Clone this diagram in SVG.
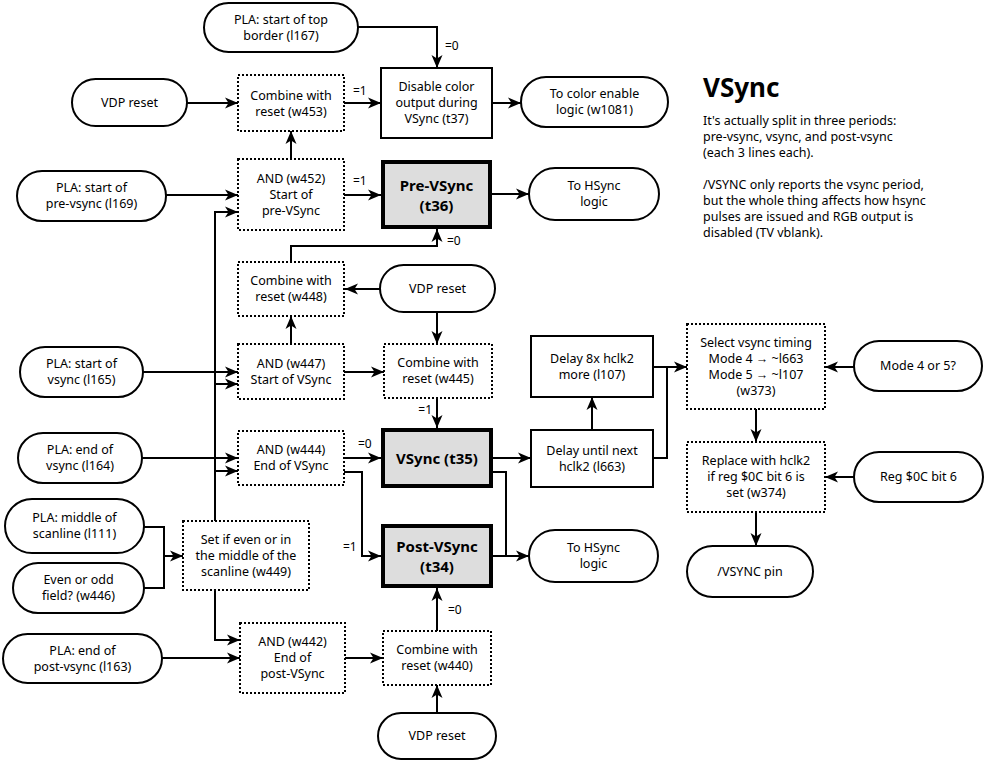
<svg xmlns="http://www.w3.org/2000/svg" width="986" height="763" viewBox="0 0 986 763">
<style>
.pill{fill:#fff;stroke:#000;stroke-width:2}
.box{fill:#fff;stroke:#000;stroke-width:2}
.dot{fill:#fff;stroke:#000;stroke-width:2;stroke-dasharray:2 2}
.thick{fill:#ddd;stroke:#000;stroke-width:4}
text{font-family:"Noto Sans","Open Sans",sans-serif;font-size:12.5px;fill:#000;text-anchor:middle}
.b{font-weight:bold;font-size:15px}
.lbl{font-size:12px;text-anchor:start}
.lble{font-size:12px;text-anchor:end}
.desc{text-anchor:start}
.title{text-anchor:start;font-weight:bold;font-size:26px}
#connectors path{fill:none;stroke:#000;stroke-width:2}
#connectors path.a{marker-end:url(#ah)}
</style>
<defs>
<marker id="ah" markerUnits="userSpaceOnUse" markerWidth="14" markerHeight="12" refX="13" refY="6" orient="auto">
<path d="M0,0.5 L13,6 L0,11.5 L3.5,6 Z" fill="#000"/>
</marker>
</defs>
<rect width="986" height="763" fill="#fff"/>

<g id="connectors">
<path class="a" d="M358,27 H437 V68"/>
<path class="a" d="M187,103 H238"/>
<path class="a" d="M344,103 H381"/>
<path class="a" d="M492,103 H521"/>
<path class="a" d="M291,159 V131"/>
<path class="a" d="M166,195 H238"/>
<path class="a" d="M215,521 V212 H238"/>
<path class="a" d="M215,384 H238"/>
<path class="a" d="M215,471 H238"/>
<path class="a" d="M344,195 H381"/>
<path class="a" d="M492,194 H529"/>
<path class="a" d="M291,262 V246 H437 V229"/>
<path class="a" d="M380,289 H345"/>
<path class="a" d="M437,312 V344"/>
<path class="a" d="M291,344 V316"/>
<path class="a" d="M143,372 H238"/>
<path class="a" d="M344,372 H384"/>
<path class="a" d="M437,398 V428"/>
<path class="a" d="M344,458 H381"/>
<path class="a" d="M344,472 H362 V556 H381"/>
<path class="a" d="M142,458 H238"/>
<path class="a" d="M493,458 H531"/>
<path d="M493,472 H506 V556"/>
<path class="a" d="M493,556 H529"/>
<path class="a" d="M592,430 V397"/>
<path class="a" d="M653,367 H687"/>
<path d="M653,458 H667 V367"/>
<path class="a" d="M854,367 H825"/>
<path class="a" d="M756,409 V442"/>
<path class="a" d="M854,477 H825"/>
<path class="a" d="M756,512 V546"/>
<path d="M144,527 H164 V588 H144"/>
<path class="a" d="M164,556 H183"/>
<path class="a" d="M215,590 V640 H240"/>
<path class="a" d="M162,658 H240"/>
<path class="a" d="M345,658 H383"/>
<path class="a" d="M437,631 V588"/>
<path class="a" d="M437,713 V685"/>
<text class="lbl" x="445" y="50">=0</text>
<text class="lbl" x="353" y="95">=1</text>
<text class="lbl" x="353" y="185">=1</text>
<text class="lbl" x="447" y="245">=0</text>
<text class="lble" x="432" y="414">=1</text>
<text class="lbl" x="358" y="448">=0</text>
<text class="lbl" x="343" y="551">=1</text>
<text class="lbl" x="448" y="614">=0</text>
</g>

<g id="n_top_border"><rect class="pill" x="204" y="3" width="154" height="49" rx="24.5"/><text x="281" y="23.5">PLA: start of top</text><text x="281" y="39.5">border (l167)</text></g>
<g id="n_vdp_reset1"><rect class="pill" x="72" y="79" width="115" height="47" rx="23.5"/><text x="129.5" y="106.5">VDP reset</text></g>
<g id="n_w453"><rect class="dot" x="238" y="75" width="106" height="56"/><text x="291" y="100">Combine with</text><text x="291" y="116">reset (w453)</text></g>
<g id="n_t37"><rect class="box" x="381" y="68" width="111" height="70"/><text x="436.5" y="91">Disable color</text><text x="436.5" y="107">output during</text><text x="436.5" y="123">VSync (t37)</text></g>
<g id="n_color_enable"><rect class="pill" x="521" y="77" width="147" height="50" rx="25"/><text x="594.5" y="98">To color enable</text><text x="594.5" y="114">logic (w1081)</text></g>
<g id="n_w452"><rect class="dot" x="238" y="159" width="106" height="71"/><text x="291" y="183">AND (w452)</text><text x="291" y="199">Start of</text><text x="291" y="215">pre-VSync</text></g>
<g id="n_pla_prevsync"><rect class="pill" x="17" y="171" width="149" height="50" rx="25"/><text x="91.5" y="192">PLA: start of</text><text x="91.5" y="208">pre-vsync (l169)</text></g>
<g id="n_t36"><rect class="thick" x="383" y="162" width="107" height="65"/><text class="b" x="436.5" y="190.5">Pre-VSync</text><text class="b" x="436.5" y="210.5">(t36)</text></g>
<g id="n_hsync1"><rect class="pill" x="529" y="168" width="130" height="52" rx="26"/><text x="594" y="190">To HSync</text><text x="594" y="206">logic</text></g>
<g id="n_w448"><rect class="dot" x="238" y="262" width="106" height="54"/><text x="291" y="285">Combine with</text><text x="291" y="301">reset (w448)</text></g>
<g id="n_vdp_reset2"><rect class="pill" x="380" y="265" width="115" height="47" rx="23.5"/><text x="437.5" y="292.5">VDP reset</text></g>
<g id="n_w447"><rect class="dot" x="238" y="344" width="106" height="55"/><text x="291" y="368">AND (w447)</text><text x="291" y="384">Start of VSync</text></g>
<g id="n_pla_vsync"><rect class="pill" x="20" y="347" width="123" height="50" rx="25"/><text x="81.5" y="368">PLA: start of</text><text x="81.5" y="384">vsync (l165)</text></g>
<g id="n_w445"><rect class="dot" x="384" y="344" width="108" height="54"/><text x="438" y="367">Combine with</text><text x="438" y="383">reset (w445)</text></g>
<g id="n_t35"><rect class="thick" x="383" y="430" width="108" height="56"/><text class="b" x="437" y="463.5">VSync (t35)</text></g>
<g id="n_w444"><rect class="dot" x="238" y="431" width="106" height="54"/><text x="291" y="454">AND (w444)</text><text x="291" y="470">End of VSync</text></g>
<g id="n_pla_endvsync"><rect class="pill" x="18" y="433" width="124" height="50" rx="25"/><text x="80" y="454">PLA: end of</text><text x="80" y="470">vsync (l164)</text></g>
<g id="n_delay_next"><rect class="box" x="531" y="430" width="122" height="57"/><text x="592" y="454.5">Delay until next</text><text x="592" y="470.5">hclk2 (l663)</text></g>
<g id="n_delay8"><rect class="box" x="531" y="336" width="122" height="61"/><text x="592" y="362.5">Delay 8x hclk2</text><text x="592" y="378.5">more (l107)</text></g>
<g id="n_w373"><rect class="dot" x="687" y="324" width="138" height="85"/><text x="756" y="346.5">Select vsync timing</text><text x="756" y="362.5">Mode 4 → ~l663</text><text x="756" y="378.5">Mode 5 → ~l107</text><text x="756" y="394.5">(w373)</text></g>
<g id="n_mode45"><rect class="pill" x="854" y="341" width="128" height="50" rx="25"/><text x="918" y="370">Mode 4 or 5?</text></g>
<g id="n_w374"><rect class="dot" x="687" y="442" width="138" height="70"/><text x="756" y="465">Replace with hclk2</text><text x="756" y="481">if reg $0C bit 6 is</text><text x="756" y="497">set (w374)</text></g>
<g id="n_reg0c"><rect class="pill" x="854" y="452" width="129" height="50" rx="25"/><text x="918.5" y="481">Reg $0C bit 6</text></g>
<g id="n_vsync_pin"><rect class="pill" x="687" y="546" width="126" height="51" rx="25.5"/><text x="750" y="575.5">/VSYNC pin</text></g>
<g id="n_pla_midscan"><rect class="pill" x="5" y="499" width="139" height="54" rx="27"/><text x="74.5" y="522">PLA: middle of</text><text x="74.5" y="538">scanline (l111)</text></g>
<g id="n_evenodd"><rect class="pill" x="13" y="563" width="131" height="50" rx="25"/><text x="78.5" y="584">Even or odd</text><text x="78.5" y="600">field? (w446)</text></g>
<g id="n_w449"><rect class="dot" x="183" y="521" width="126" height="69"/><text x="246" y="543.5">Set if even or in</text><text x="246" y="559.5">the middle of the</text><text x="246" y="575.5">scanline (w449)</text></g>
<g id="n_w442"><rect class="dot" x="240" y="623" width="105" height="70"/><text x="292.5" y="646">AND (w442)</text><text x="292.5" y="662">End of</text><text x="292.5" y="678">post-VSync</text></g>
<g id="n_pla_postvsync"><rect class="pill" x="3" y="634" width="159" height="49" rx="24.5"/><text x="82.5" y="654.5">PLA: end of</text><text x="82.5" y="670.5">post-vsync (l163)</text></g>
<g id="n_w440"><rect class="dot" x="383" y="631" width="108" height="54"/><text x="437" y="654">Combine with</text><text x="437" y="670">reset (w440)</text></g>
<g id="n_t34"><rect class="thick" x="383" y="526" width="108" height="60"/><text class="b" x="437" y="552">Post-VSync</text><text class="b" x="437" y="572">(t34)</text></g>
<g id="n_hsync2"><rect class="pill" x="529" y="530" width="129" height="52" rx="26"/><text x="593.5" y="552">To HSync</text><text x="593.5" y="568">logic</text></g>
<g id="n_vdp_reset3"><rect class="pill" x="378" y="713" width="118" height="46" rx="23"/><text x="437" y="740">VDP reset</text></g>

<g id="description">
<text class="title" x="703" y="97">VSync</text>
<text class="desc" x="703" y="125">It's actually split in three periods:</text>
<text class="desc" x="703" y="141">pre-vsync, vsync, and post-vsync</text>
<text class="desc" x="703" y="157">(each 3 lines each).</text>
<text class="desc" x="703" y="189">/VSYNC only reports the vsync period,</text>
<text class="desc" x="703" y="205">but the whole thing affects how hsync</text>
<text class="desc" x="703" y="221">pulses are issued and RGB output is</text>
<text class="desc" x="703" y="237">disabled (TV vblank).</text>
</g>
</svg>
